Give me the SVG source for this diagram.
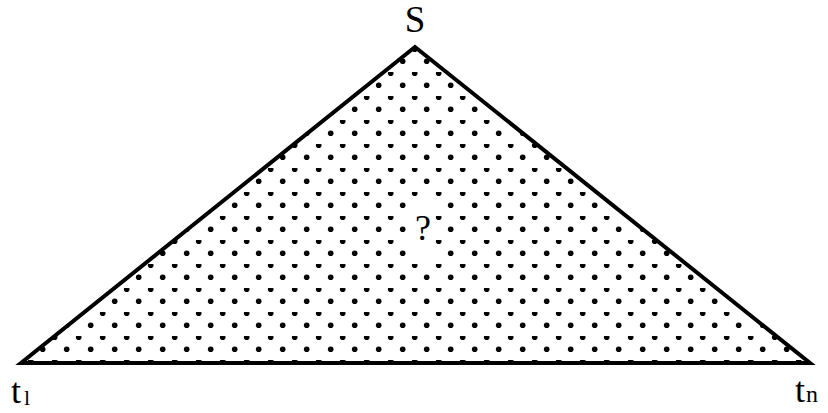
<svg xmlns="http://www.w3.org/2000/svg" width="828" height="413" viewBox="0 0 828 413">
  <defs>
    <pattern id="dots" patternUnits="userSpaceOnUse" x="0" y="0" width="24" height="24">
      <circle cx="6.7" cy="1.3" r="2.8"/>
      <circle cx="18.7" cy="13.3" r="2.8"/>
    </pattern>
  </defs>
  <style>
    .lbl { font-family: "Liberation Serif", "Times New Roman", serif; fill: #000; }
    .edge { fill: none; stroke: #000; stroke-width: 4; stroke-linejoin: miter; }
  </style>
  <rect width="828" height="413" fill="#fff"/>
  <g id="region">
    <polygon points="415,47 21,363 810,363" fill="url(#dots)"/>
    <rect x="408" y="197" width="25" height="64" fill="#fff"/>
    <text class="lbl" x="423" y="240" font-size="36" text-anchor="middle">?</text>
  </g>
  <g id="connectors">
    <polygon class="edge" points="415,47 21,363 810,363"/>
  </g>
  <g id="S">
    <text class="lbl" x="415" y="32" font-size="37" text-anchor="middle">S</text>
  </g>
  <g id="t1">
    <text class="lbl" x="11" y="403" font-size="36">t<tspan font-size="22" dy="2" dx="3">l</tspan></text>
  </g>
  <g id="tn">
    <text class="lbl" x="795" y="402" font-size="36">t<tspan font-size="24" dy="0" dx="1">n</tspan></text>
  </g>
</svg>
